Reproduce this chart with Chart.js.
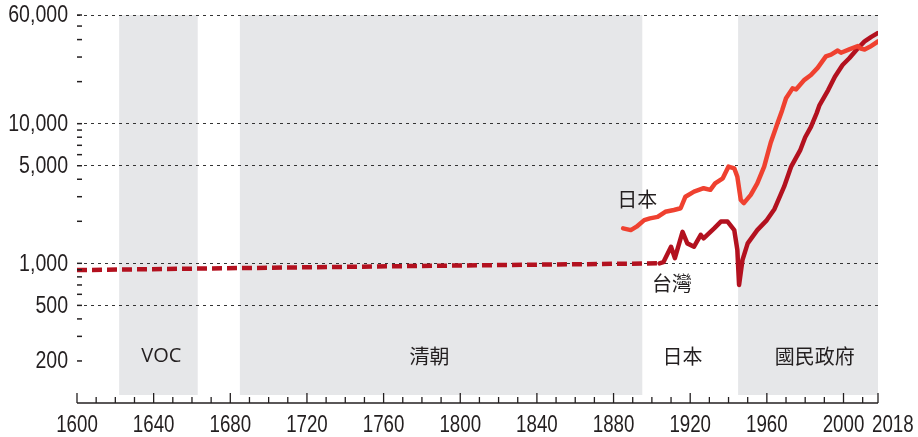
<!DOCTYPE html>
<html>
<head>
<meta charset="utf-8">
<script src="https://cdn.jsdelivr.net/npm/chart.js@4.4.0/dist/chart.umd.min.js"></script>
<style>
  html, body { margin: 0; padding: 0; background: #fff; }
  #myChart { display: block; }
</style>
</head>
<body>
<canvas id="myChart" width="918" height="437"></canvas>
<script>
// periods shown as bands behind the lines
var periodNames  = ['VOC', '清朝', '日本', '國民政府'];
var periodStart  = [1622, 1685, 1895, 1945];
var periodEnd    = [1663, 1895, 1945, 2018];
var periodShaded = [true, true, false, true];
var periodLabelYear = [1644, 1784, 1916, 1985];

// axis ticks
var yTicks  = [200, 300, 400, 500, 600, 700, 800, 900, 1000, 2000, 3000, 4000, 5000, 6000, 7000, 8000, 9000,
               10000, 20000, 30000, 40000, 50000, 60000];
var yLabels = [200, 500, 1000, 5000, 10000, 60000];
var yGrid   = [500, 1000, 5000, 10000, 60000];
var xLabels = [1600, 1640, 1680, 1720, 1760, 1800, 1840, 1880, 1920, 1960, 2000, 2018];

// Taiwan, estimate before 1904 (dashed)
var twEarlyYears  = [1600, 1700, 1800, 1904];
var twEarlyValues = [895, 930, 965, 1000];

// Taiwan
var twYears  = [1904, 1906, 1910, 1912, 1916, 1918.5, 1922, 1925.5, 1927, 1932.5, 1936, 1939.5, 1943, 1944.6,
                1945.5, 1947.3, 1950, 1955, 1960, 1964, 1969, 1972.6, 1977.5, 1980, 1983, 1986, 1987.5, 1992,
                1995.5, 1999.5, 2003, 2007.5, 2011, 2014.5, 2018];
var twValues = [1000, 1020, 1315, 1090, 1680, 1390, 1315, 1600, 1510, 1780, 1990, 1990, 1730, 1250,
                700, 1060, 1390, 1730, 2040, 2450, 3540, 4900, 6500, 8000, 9500, 11900, 13600, 17400,
                21700, 26300, 29400, 34700, 38800, 41800, 44600];

// Japan
var jpYears  = [1885, 1889, 1892, 1896, 1899, 1903, 1907, 1911.5, 1915, 1917.5, 1922, 1927, 1930.5, 1933,
                1937, 1940, 1943, 1944.6, 1946.4, 1948, 1951.6, 1955, 1958.6, 1962, 1965.6, 1968, 1970,
                1973.4, 1975.2, 1979.6, 1983, 1986.5, 1990.8, 1993.5, 1997, 1998.7, 2003, 2007.5, 2009,
                2011, 2014.5, 2018];
var jpValues = [1780, 1730, 1830, 2040, 2100, 2150, 2340, 2410, 2480, 3000, 3260, 3450, 3360, 3740,
                4060, 4930, 4790, 4170, 2840, 2700, 3090, 3740, 4930, 7300, 10100, 12500, 15200,
                17900, 17600, 20600, 22300, 25100, 30300, 31200, 33400, 32200, 34000, 36000, 34500,
                34000, 36000, 38800];

// labels next to the lines
var lineLabels     = ['日本', '台灣'];
var lineLabelYear  = [1892.3, 1910.5];
var lineLabelValue = [2890, 723];

var numFont = '"Liberation Sans", Arial, sans-serif';
var cjkFont = '"Noto Sans CJK TC", "Noto Sans", sans-serif';
var ink = '#231f20';

function toPoints(xs, ys) {
    return xs.map(function (x, i) { return { x: x, y: ys[i] }; });
}

// narrow figures: the source uses a condensed face, so squeeze horizontally
function narrowText(ctx, text, x, y, squeeze, align) {
    ctx.save();
    ctx.translate(x, y);
    ctx.scale(squeeze, 1);
    ctx.textAlign = align;
    ctx.fillText(text, 0, 0);
    ctx.restore();
}

// bands, axis line, inward ticks, labels and text notes
var decorations = {
    id: 'decorations',
    beforeDraw: function (chart) {
        var ctx = chart.ctx, a = chart.chartArea, xs = chart.scales.x;
        ctx.save();
        ctx.fillStyle = '#e6e7e9';
        for (var i = 0; i < periodStart.length; i++) {
            if (!periodShaded[i]) continue;
            var x1 = xs.getPixelForValue(periodStart[i]);
            var x2 = xs.getPixelForValue(periodEnd[i]);
            ctx.fillRect(x1, a.top, x2 - x1, a.bottom - 8 - a.top);
        }
        ctx.restore();
    },
    afterDraw: function (chart) {
        var ctx = chart.ctx, a = chart.chartArea, xs = chart.scales.x, ys = chart.scales.y;
        ctx.save();
        ctx.strokeStyle = ink;
        ctx.fillStyle = ink;

        // x axis line
        ctx.lineWidth = 1.5;
        ctx.beginPath();
        ctx.moveTo(a.left, a.bottom);
        ctx.lineTo(a.right, a.bottom);
        ctx.stroke();

        // x ticks every 10 years, pointing up
        ctx.lineWidth = 1.3;
        var years = [];
        for (var yr = 1600; yr <= 2010; yr += 10) years.push(yr);
        years.push(2018);
        years.forEach(function (yr) {
            var px = xs.getPixelForValue(yr);
            var len = xLabels.indexOf(yr) >= 0 ? 10 : 6;
            ctx.beginPath();
            ctx.moveTo(px, a.bottom);
            ctx.lineTo(px, a.bottom - len);
            ctx.stroke();
        });

        // x labels
        ctx.font = '24px ' + numFont;
        ctx.textBaseline = 'alphabetic';
        xLabels.forEach(function (yr) {
            var px = xs.getPixelForValue(yr);
            if (yr === 2018) {
                narrowText(ctx, String(yr), px - 6, a.bottom + 29, 0.78, 'left');
            } else {
                narrowText(ctx, String(yr), px, a.bottom + 29, 0.78, 'center');
            }
        });

        // y ticks, pointing right
        ctx.lineWidth = 1.5;
        yTicks.forEach(function (v) {
            var py = ys.getPixelForValue(v);
            ctx.beginPath();
            ctx.moveTo(a.left, py);
            ctx.lineTo(a.left + 5, py);
            ctx.stroke();
        });

        // y labels
        ctx.font = '23px ' + numFont;
        ctx.textBaseline = 'middle';
        yLabels.forEach(function (v) {
            narrowText(ctx, v.toLocaleString('en-US'), a.left - 9, ys.getPixelForValue(v) + 1, 0.85, 'right');
        });

        // period names
        ctx.textAlign = 'center';
        ctx.textBaseline = 'middle';
        var py = ys.getPixelForValue(216);
        periodNames.forEach(function (name, i) {
            ctx.font = (name === 'VOC' ? '20px "Open Sans", sans-serif' : '20px ' + cjkFont);
            ctx.fillText(name, xs.getPixelForValue(periodLabelYear[i]), py);
        });

        // line names
        ctx.font = '20px ' + cjkFont;
        lineLabels.forEach(function (name, i) {
            ctx.fillText(name, xs.getPixelForValue(lineLabelYear[i]), ys.getPixelForValue(lineLabelValue[i]));
        });
        ctx.restore();
    }
};

var ctx = document.getElementById('myChart').getContext('2d');
var myChart = new Chart(ctx, {
    type: 'line',
    data: {
        datasets: [{
            label: '台灣 (估計)',
            data: toPoints(twEarlyYears, twEarlyValues),
            borderColor: '#b3111f',
            borderWidth: 4.5,
            borderDash: [10, 5],
            borderCapStyle: 'butt'
        }, {
            label: '日本',
            data: toPoints(jpYears, jpValues),
            borderColor: '#ef4130',
            borderWidth: 4.5
        }, {
            label: '台灣',
            data: toPoints(twYears, twValues),
            borderColor: '#b3111f',
            borderWidth: 4.5
        }]
    },
    options: {
        responsive: false,
        animation: false,
        devicePixelRatio: 1,
        layout: { padding: { top: 15, right: 40, bottom: 34, left: 0 } },
        plugins: { legend: { display: false }, tooltip: { enabled: false } },
        elements: {
            point: { radius: 0 },
            line: { tension: 0, borderJoinStyle: 'round', borderCapStyle: 'round' }
        },
        scales: {
            x: { type: 'linear', min: 1600, max: 2018, display: false },
            y: {
                type: 'logarithmic',
                min: 100,
                max: 60000,
                afterBuildTicks: function (s) {
                    s.ticks = yTicks.map(function (v) { return { value: v }; });
                },
                afterFit: function (s) { s.width = 77; },
                ticks: { display: false },
                grid: {
                    drawTicks: false,
                    lineWidth: 1,
                    color: function (c) {
                        return c.tick && yGrid.indexOf(c.tick.value) >= 0 ? '#333' : 'rgba(0,0,0,0)';
                    }
                },
                border: { display: false, dash: [3, 4] }
            }
        }
    },
    plugins: [decorations]
});
</script>
</body>
</html>
